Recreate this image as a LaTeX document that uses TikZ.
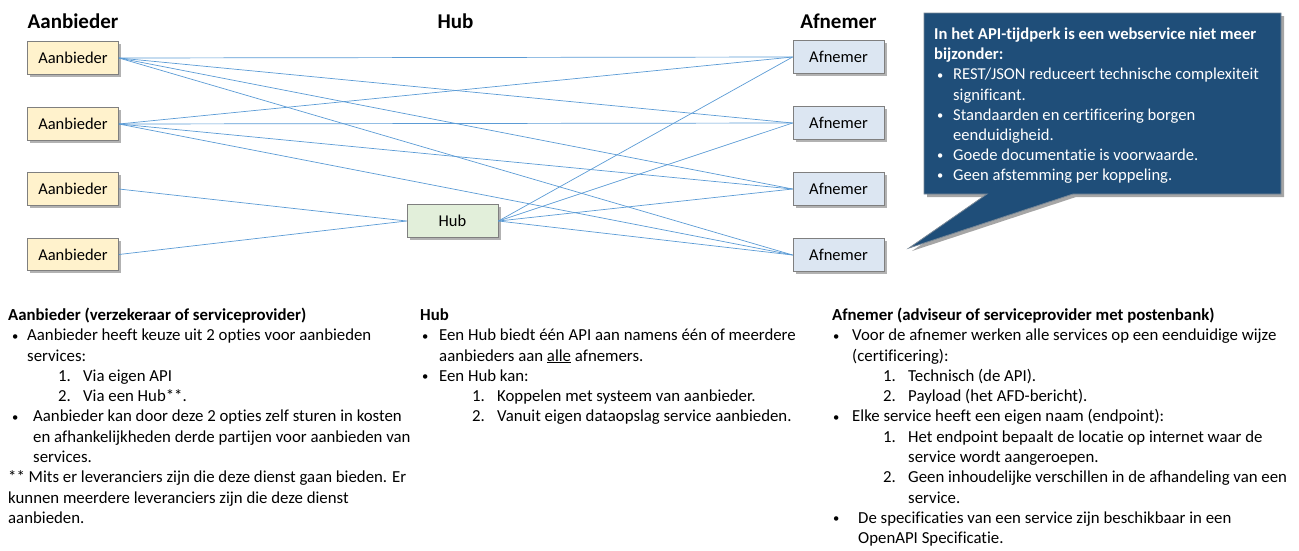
\documentclass[tikz,border=0pt]{standalone}
\usepackage{fontspec}
\setmainfont{Carlito}[Ligatures=NoCommon]
\usetikzlibrary{shadows}
\definecolor{linec}{RGB}{91,155,213}
\definecolor{aanb}{RGB}{255,242,204}
\definecolor{afn}{RGB}{220,230,242}
\definecolor{hubc}{RGB}{226,239,218}
\definecolor{boxline}{RGB}{127,127,127}
\definecolor{callc}{RGB}{31,78,121}
\definecolor{callline}{RGB}{120,135,150}
\newcommand\bl[4]{\hspace*{#1}\makebox[#2][l]{#3}#4}
\newcommand\bu{\raisebox{0.6pt}{\scalebox{0.75}{•}}}
\begin{document}
\begin{tikzpicture}[x=1pt,y=-1pt,
  every node/.style={inner sep=0pt},
  box/.style={draw=boxline, line width=0.8pt, minimum width=91pt, minimum height=32.5pt,
    font=\fontsize{16.5}{19}\selectfont,
    drop shadow={shadow xshift=2.5pt, shadow yshift=-2.5pt, opacity=0.3, fill=black}},
  aanbbox/.style={box, fill=aanb},
  afnbox/.style={box, fill=afn},
  hubbox/.style={box, fill=hubc},
  head/.style={font=\fontsize{21}{25}\selectfont\bfseries, anchor=base},
  conn/.style={draw=linec, line width=0.7pt},
  txt/.style={anchor=north west, align=left, font=\fontsize{16.8}{20.3}\selectfont},
  calltxt/.style={anchor=north west, align=left, text=white, font=\fontsize{16.6}{20.1}\selectfont},
  callshape/.style={fill=callc, draw=callline, line width=0.8pt,
    drop shadow={shadow xshift=3pt, shadow yshift=-3pt, opacity=0.35, fill=black}}
]
\useasboundingbox (0,0) rectangle (1299,550);

% headings
\node[head] (hA) at (73,28) {Aanbieder};
\node[head] (hH) at (455.5,28) {Hub};
\node[head] (hF) at (838.5,28) {Afnemer};

% boxes
\node[aanbbox] (a1) at (73,58) {Aanbieder};
\node[aanbbox] (a2) at (73,124) {Aanbieder};
\node[aanbbox] (a3) at (73,189) {Aanbieder};
\node[aanbbox] (a4) at (73,254.5) {Aanbieder};
\node[afnbox] (f1) at (838.5,57) {Afnemer};
\node[afnbox] (f2) at (838.5,123) {Afnemer};
\node[afnbox] (f3) at (838.5,189) {Afnemer};
\node[afnbox] (f4) at (838.5,255) {Afnemer};
\node[hubbox] (hub) at (452.5,221) {Hub};

% connectors
\foreach \f in {f1,f2,f3,f4}{
  \draw[conn] (a1.east) -- (\f.west);
  \draw[conn] (a2.east) -- (\f.west);
  \draw[conn] (hub.east) -- (\f.west);
}
\draw[conn] (a3.east) -- (hub.west);
\draw[conn] (a4.east) -- (hub.west);

% callout
\draw[callshape] (924,13) -- (1281,13) -- (1281,194) -- (1073,194) -- (909,248) -- (987,194) -- (924,194) -- cycle;
\node[calltxt] (call) at (934,25.5) {%
\strut\textbf{In het API-tijdperk is een webservice niet meer}\\
\textbf{bijzonder:}\\
\bl{3pt}{16pt}{\bu}{REST/JSON reduceert technische complexiteit}\\
\hspace*{19pt}significant.\\
\bl{3pt}{16pt}{\bu}{Standaarden en certificering borgen}\\
\hspace*{19pt}eenduidigheid.\\
\bl{3pt}{16pt}{\bu}{Goede documentatie is voorwaarde.}\\
\bl{3pt}{16pt}{\bu}{Geen afstemming per koppeling.}};

% bottom texts
\node[txt] (colA) at (8,306) {%
\strut\textbf{Aanbieder (verzekeraar of serviceprovider)}\\
\bl{4pt}{15pt}{\bu}{Aanbieder heeft keuze uit 2 opties voor aanbieden}\\
\hspace*{19pt}services:\\
\bl{50pt}{25pt}{1.}{Via eigen API}\\
\bl{50pt}{25pt}{2.}{Via een Hub**.}\\
\bl{4pt}{21pt}{\bu}{Aanbieder kan door deze 2 opties zelf sturen in kosten}\\
\hspace*{25pt}en afhankelijkheden derde partijen voor aanbieden van\\
\hspace*{25pt}services.\\
** Mits er leveranciers zijn die deze dienst gaan bieden. Er\\
kunnen meerdere leveranciers zijn die deze dienst\\
aanbieden.};

\node[txt] (colH) at (420,306) {%
\strut\textbf{Hub}\\
\bl{2pt}{17pt}{\bu}{Een Hub biedt één API aan namens één of meerdere}\\
\hspace*{19pt}aanbieders aan \underline{alle} afnemers.\\
\bl{2pt}{17pt}{\bu}{Een Hub kan:}\\
\bl{52pt}{25pt}{1.}{Koppelen met systeem van aanbieder.}\\
\bl{52pt}{25pt}{2.}{Vanuit eigen dataopslag service aanbieden.}};

\node[txt] (colF) at (832,306) {%
\strut\textbf{Afnemer (adviseur of serviceprovider met postenbank)}\\
\bl{1pt}{19pt}{\bu}{Voor de afnemer werken alle services op een eenduidige wijze}\\
\hspace*{20pt}(certificering):\\
\bl{51pt}{25pt}{1.}{Technisch (de API).}\\
\bl{51pt}{25pt}{2.}{Payload (het AFD-bericht).}\\
\bl{1pt}{19pt}{\bu}{Elke service heeft een eigen naam (endpoint):}\\
\bl{51pt}{25pt}{1.}{Het endpoint bepaalt de locatie op internet waar de}\\
\hspace*{76pt}service wordt aangeroepen.\\
\bl{51pt}{25pt}{2.}{Geen inhoudelijke verschillen in de afhandeling van een}\\
\hspace*{76pt}service.\\
\bl{1pt}{25pt}{\bu}{De specificaties van een service zijn beschikbaar in een}\\
\hspace*{26pt}OpenAPI Specificatie.};
\end{tikzpicture}
\end{document}
